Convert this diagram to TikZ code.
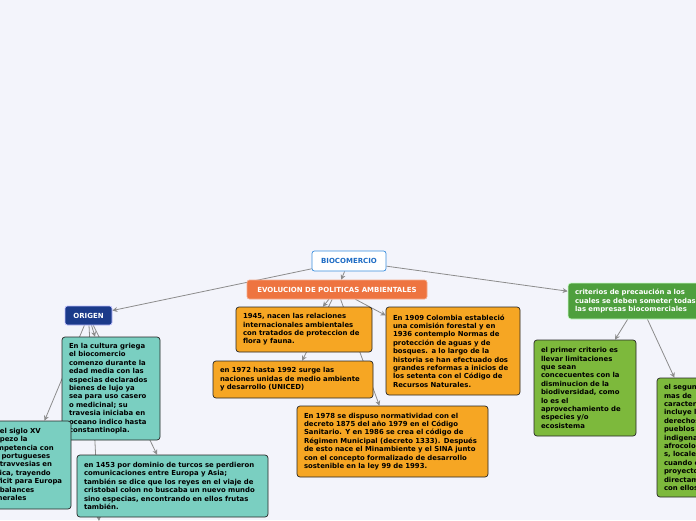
\documentclass[tikz,border=0pt]{standalone}
\usepackage{fontspec}
\usepackage{xcolor}
\usepackage{tikz}
\usetikzlibrary{positioning, arrows.meta, backgrounds}
\newfontfamily\mapfont{DejaVu Sans}
\definecolor{canvasbg}{HTML}{F3F4FB}
\definecolor{boxline}{HTML}{262626}
\definecolor{linkgray}{HTML}{8C8C8C}
\definecolor{ambar}{HTML}{F6A623}
\definecolor{turquesa}{HTML}{7ACFC1}
\definecolor{verdeosc}{HTML}{4E9F3D}
\definecolor{verdecla}{HTML}{7DB93C}
\definecolor{naranja}{HTML}{EE7440}
\definecolor{marino}{HTML}{1B3A8A}
\definecolor{azulbio}{HTML}{3B8EDE}
\definecolor{azultxt}{HTML}{1C6BC4}
\pgfdeclarelayer{canvas}
\pgfdeclarelayer{links}
\pgfsetlayers{canvas,links,main}

\begin{document}
\begin{tikzpicture}[
    x=1pt, y=-1pt,
    box/.style={rectangle, draw=boxline, line width=0.7pt, rounded corners=3pt, inner xsep=7pt, inner ysep=4pt, align=left, text=black, font={\mapfont\fontsize{6.9}{8.4}\selectfont\bfseries}},
    title/.style={rectangle, line width=0.7pt, rounded corners=2.5pt, align=center, inner sep=2pt, font={\mapfont\fontsize{7}{8.4}\selectfont\bfseries}},
    arr/.style={-{Stealth[length=5pt, width=5pt]}, draw=linkgray, line width=0.8pt}
]

\useasboundingbox (0,0) rectangle (696,520);
\begin{pgfonlayer}{canvas}
\fill[canvasbg] (0,0) rectangle (696,520);
\end{pgfonlayer}

\node[title, fill=white, draw=azulbio, text=azultxt, minimum width=74pt, minimum height=20pt] (bio) at (349,261) {BIOCOMERCIO};
\node[title, fill=naranja, draw=naranja!60!white, text=white, minimum width=180pt, minimum height=19pt] (evo) at (337,289.5) {EVOLUCION DE POLITICAS AMBIENTALES};
\node[title, fill=marino, draw=white!75!blue, text=white, minimum width=47pt, minimum height=19pt] (origen) at (88.5,315.5) {ORIGEN};
\node[box, fill=verdeosc, draw=white!80!green, text=white, text width=128pt, minimum height=36pt] (crit) at (639,301) {criterios de precaución a los\\cuales se deben someter todas\\las empresas biocomerciales};

% origen
\node[box, fill=turquesa, text width=84pt, minimum height=103pt] (griega) at (111,388.5) {En la cultura griega\\el biocomercio\\comenzo durante la\\edad media con las\\especias declarados\\bienes de lujo ya\\sea para uso casero\\o medicinal; su\\travesia iniciaba en\\oceano indico hasta\\constantinopla.};
\node[box, fill=turquesa, text width=76pt, minimum height=88pt] (siglo) at (26,465) {En el siglo XV\\empezo la\\competencia con\\los portugueses\\en travvesias en\\Africa, trayendo\\deficit para Europa\\en balances\\generales};
\node[box, fill=turquesa, text width=177pt, minimum height=62pt] (viaje) at (172.5,486) {en 1453 por dominio de turcos se perdieron\\comunicaciones entre Europa y Asia;\\también se dice que los reyes en el viaje de\\cristobal colon no buscaba un nuevo mundo\\sino especias, encontrando en ellos frutas\\también.};
\coordinate (more) at (99,521);

% evolucion
\node[box, fill=ambar, text width=122pt, minimum height=45pt] (f1945) at (304,329.5) {1945, nacen las relaciones\\internacionales ambientales\\con tratados de proteccion de\\flora y fauna.};
\node[box, fill=ambar, text width=146pt, minimum height=37pt] (f1972) at (293,379.5) {en 1972 hasta 1992 surge las\\naciones unidas de medio ambiente\\y desarrollo (UNICED)};
\node[box, fill=ambar, text width=120pt, minimum height=88pt] (f1909) at (453,351) {En 1909 Colombia estableció\\una comisión forestal y en\\1936 contemplo Normas de\\protección de aguas y de\\bosques. a lo largo de la\\historia se han efectuado dos\\grandes reformas a inicios de\\los setenta con el Código de\\Recursos Naturales.};
\node[box, fill=ambar, text width=177pt, minimum height=71pt] (f1978) at (392.5,441.5) {En 1978 se dispuso normatividad con el\\decreto 1875 del año 1979 en el Código\\Sanitario. Y en 1986 se crea el código de\\Régimen Municipal (decreto 1333). Después\\de esto nace el Minambiente y el SINA junto\\con el concepto formalizado de desarrollo\\sostenible en la ley 99 de 1993.};

% criterios
\node[box, fill=verdecla, text width=88pt, minimum height=96pt] (primer) at (585,388) {el primer criterio es\\llevar limitaciones\\que sean\\concecuentes con la\\disminucion de la\\biodiversidad, como\\lo es el\\aprovechamiento de\\especies y/o\\ecosistema};
\node[box, fill=verdecla, text width=76pt, minimum height=119pt] (segundo) at (702,437.5) {el segundo y\\mas de\\caracter social\\incluye los\\derechos de\\pueblos\\indigenas,\\afrocolombiano\\s, locales\\cuando el\\proyecto\\directamente\\con ellos};

\begin{pgfonlayer}{links}
\draw[arr] (bio) -- (origen);
\draw[arr] (bio) -- (evo);
\draw[arr] (bio) -- (crit);
\draw[arr] (evo) -- (f1945);
\draw[arr] (evo) -- (f1972);
\draw[arr] (evo) -- (f1978);
\draw[arr] (evo) -- (f1909);
\draw[arr] (origen) -- (griega);
\draw[arr] (origen) -- (siglo);
\draw[arr] (origen) -- (viaje);
\draw[arr] (origen) -- (more);
\draw[arr] (crit) -- (primer);
\draw[arr] (crit) -- (segundo);
\end{pgfonlayer}

\end{tikzpicture}
\end{document}
